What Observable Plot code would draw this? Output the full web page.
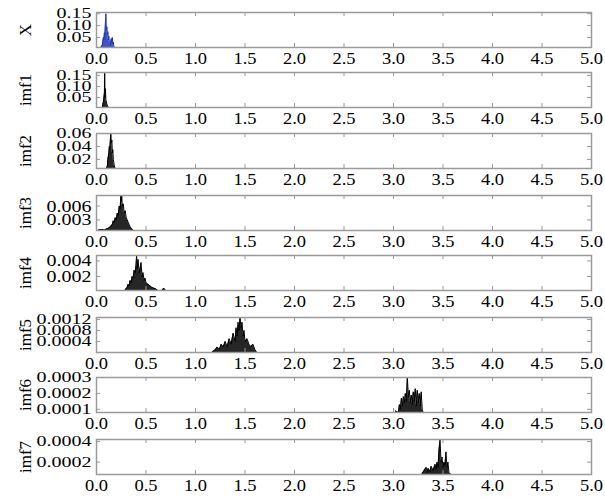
<!DOCTYPE html>
<html><head><meta charset="utf-8">
<script src="https://cdn.jsdelivr.net/npm/d3@7"></script>
<script src="https://cdn.jsdelivr.net/npm/@observablehq/plot@0.6"></script>
<style>
body{margin:0;background:#fff;}
#chart{position:relative;width:605px;height:497px;}
#chart svg{position:absolute;left:0;overflow:visible;}
</style></head><body><div id="chart"></div>
<script>
// ---- data ----
const panelNames = ["X","imf1","imf2","imf3","imf4","imf5","imf6","imf7"];
const xTicks = [0,0.5,1.0,1.5,2.0,2.5,3.0,3.5,4.0,4.5,5.0];

const specX = [[0.03,0],[0.04,0.005],[0.05,0.012],[0.06,0.02],[0.065,0.035],[0.07,0.05],[0.075,0.04],[0.08,0.07],[0.085,0.06],[0.09,0.11],[0.095,0.15],[0.1,0.08],[0.105,0.095],[0.11,0.06],[0.115,0.075],[0.12,0.04],[0.125,0.055],[0.13,0.03],[0.135,0.025],[0.14,0.02],[0.145,0.035],[0.15,0.045],[0.155,0.03],[0.16,0.05],[0.165,0.025],[0.17,0.03],[0.175,0.015],[0.18,0.01],[0.19,0]];
const specImf1 = [[0.06,0.005],[0.065,0.02],[0.07,0.03],[0.075,0.05],[0.08,0.07],[0.083,0.16],[0.086,0.05],[0.09,0.09],[0.095,0.04],[0.1,0.03],[0.105,0.02],[0.11,0.015],[0.12,0.005]];
const specImf2 = [[0.1,0.005],[0.11,0.01],[0.115,0.02],[0.12,0.025],[0.125,0.03],[0.13,0.04],[0.135,0.035],[0.14,0.05],[0.145,0.06],[0.15,0.045],[0.155,0.05],[0.16,0.03],[0.165,0.035],[0.17,0.02],[0.175,0.015],[0.18,0.01],[0.19,0.005]];
const specImf3 = [[0.02,0.0008],[0.05,0.0009],[0.08,0.0008],[0.1,0.001],[0.12,0.0012],[0.14,0.0015],[0.16,0.002],[0.17,0.0028],[0.18,0.0025],[0.19,0.0035],[0.2,0.003],[0.21,0.0045],[0.22,0.004],[0.23,0.006],[0.24,0.0055],[0.245,0.0083],[0.25,0.007],[0.255,0.0083],[0.26,0.006],[0.27,0.0065],[0.28,0.0045],[0.29,0.005],[0.3,0.0035],[0.31,0.003],[0.32,0.0025],[0.33,0.002],[0.34,0.0015],[0.35,0.0012],[0.37,0.0008]];
const specImf4 = [[0.29,0.0003],[0.31,0.0006],[0.32,0.001],[0.33,0.0008],[0.34,0.0015],[0.35,0.0012],[0.36,0.002],[0.37,0.0018],[0.38,0.0028],[0.39,0.0025],[0.4,0.0035],[0.405,0.0047],[0.41,0.003],[0.42,0.0042],[0.43,0.0025],[0.44,0.003],[0.45,0.0038],[0.46,0.002],[0.47,0.0025],[0.48,0.0015],[0.49,0.0018],[0.5,0.0012],[0.52,0.001],[0.54,0.0008],[0.56,0.0006],[0.58,0.0005],[0.6,0.0004],[0.62,0.0002],[0.66,0.0002],[0.68,0.0005],[0.7,0.0002]];
const specImf5 = [[1.17,0.00002],[1.2,0.0001],[1.22,0.0002],[1.24,0.0001],[1.26,0.0003],[1.28,0.0002],[1.3,0.0004],[1.32,0.0002],[1.34,0.0005],[1.36,0.0003],[1.38,0.0007],[1.4,0.0004],[1.41,0.0009],[1.42,0.0006],[1.43,0.0011],[1.44,0.0008],[1.45,0.00127],[1.46,0.0009],[1.47,0.0011],[1.48,0.0006],[1.49,0.0008],[1.5,0.0004],[1.52,0.0005],[1.54,0.0003],[1.56,0.0002],[1.58,0.0003],[1.6,0.0001],[1.62,0]];
const specImf6 = [[3.02,0.00009],[3.05,0.00008],[3.06,0.00013],[3.07,0.0001],[3.08,0.00017],[3.09,0.00012],[3.1,0.00018],[3.11,0.00014],[3.12,0.0002],[3.13,0.00015],[3.14,0.0003],[3.15,0.00018],[3.16,0.00022],[3.17,0.00014],[3.18,0.00019],[3.19,0.00013],[3.2,0.00021],[3.21,0.00015],[3.22,0.00023],[3.23,0.00012],[3.24,0.00022],[3.25,0.00014],[3.26,0.0002],[3.27,0.00012],[3.28,0.00021],[3.29,0.0001],[3.3,0.00008]];
const specImf7 = [[3.29,0.00009],[3.31,0.00012],[3.33,0.00015],[3.34,0.0001],[3.35,0.00014],[3.37,0.00011],[3.38,0.00016],[3.4,0.00012],[3.42,0.00018],[3.43,0.00013],[3.44,0.0002],[3.45,0.00015],[3.46,0.00032],[3.47,0.00042],[3.48,0.0002],[3.49,0.00025],[3.5,0.00015],[3.51,0.0002],[3.52,0.00017],[3.53,0.0003],[3.54,0.00015],[3.55,0.0002],[3.56,0.0001],[3.58,0.00008]];

const yTicksX = [0.05,0.10,0.15];
const yTicksImf1 = [0.05,0.10,0.15];
const yTicksImf2 = [0.02,0.04,0.06];
const yTicksImf3 = [0.003,0.006];
const yTicksImf4 = [0.002,0.004];
const yTicksImf5 = [0.0004,0.0008,0.0012];
const yTicksImf6 = [0.0001,0.0002,0.0003];
const yTicksImf7 = [0.0002,0.0004];

const yDomX = [0.008,0.155];
const yDomImf1 = [0.005,0.163];
const yDomImf2 = [0.006,0.06];
const yDomImf3 = [0.0007,0.0083];
const yDomImf4 = [0.0002,0.0047];
const yDomImf5 = [0,0.00127];
const yDomImf6 = [0.00008,0.0003];
const yDomImf7 = [0.00008,0.00042];

const specs = [specX,specImf1,specImf2,specImf3,specImf4,specImf5,specImf6,specImf7];
const yTicksAll = [yTicksX,yTicksImf1,yTicksImf2,yTicksImf3,yTicksImf4,yTicksImf5,yTicksImf6,yTicksImf7];
const yDoms = [yDomX,yDomImf1,yDomImf2,yDomImf3,yDomImf4,yDomImf5,yDomImf6,yDomImf7];
const yFormats = [".2f",".2f",".2f",".3f",".3f",".4f",".4f",".4f"];
const colors = ["#1f35b5","#000","#000","#000","#000","#000","#000","#000"];

// ---- layout / style ----
const tops = [12,72,133,195,255,317,377,439];
const ySquash = [0.68,0.68,0.75,0.85,0.85,0.68,0.68,0.72];
const frameH = 35, mTop = 12, mBottom = 24, mLeft = 96, mRight = 14;
const frameW = 605 - mLeft - mRight;
const grid = "#9a9a9a";
const serif = "'Liberation Serif', 'Times New Roman', serif";
const chart = document.getElementById("chart");

panelNames.forEach((name, i) => {
  const spec = specs[i];
  const yt = yTicksAll[i];
  const svg = Plot.plot({
    width: 605,
    height: mTop + frameH + mBottom,
    marginTop: mTop, marginBottom: mBottom, marginLeft: mLeft, marginRight: mRight,
    style: {background: "transparent", overflow: "visible", fontFamily: serif, fontSize: "18px", color: "#000"},
    x: {domain: [0, 5]},
    y: {domain: yDoms[i]},
    marks: [
      Plot.areaY(spec, {x: d => d[0], y: d => d[1], fill: colors[i], fillOpacity: 0.85, clip: true}),
      Plot.lineY(spec, {x: d => d[0], y: d => d[1], stroke: colors[i], strokeWidth: 1, clip: true}),
      Plot.tickX(xTicks, {x: d => d, insetTop: frameH - 4, stroke: grid}),
      Plot.tickX(xTicks, {x: d => d, insetBottom: frameH - 4, stroke: grid}),
      Plot.tickY(yt, {y: d => d, insetRight: frameW - 4, stroke: grid}),
      Plot.tickY(yt, {y: d => d, insetLeft: frameW - 4, stroke: grid}),
      Plot.frame({stroke: grid, strokeWidth: 1.5}),
      Plot.axisX(xTicks, {tickSize: 0, tickPadding: 5, tickFormat: ".1f", fontSize: 18.5, label: null}),
      Plot.axisY(yt, {tickSize: 0, tickPadding: 5, tickFormat: yFormats[i], fontSize: 20,
        label: name, labelAnchor: "center", labelOffset: 78, labelArrow: "none"})
    ]
  });
  svg.querySelectorAll("text").forEach(t => { t.setAttribute("font-family", serif); t.style.fontFamily = serif; });
  svg.querySelectorAll('g[aria-label="y-axis tick label"] text').forEach(t => {
    const tr = t.getAttribute("transform");
    if (tr) t.setAttribute("transform", tr + ` scale(1,${ySquash[i]})`);
  });
  svg.querySelectorAll('g[aria-label="x-axis tick label"] text').forEach(t => {
    const tr = t.getAttribute("transform");
    if (tr) t.setAttribute("transform", tr + " scale(1,0.85)");
  });
  svg.querySelectorAll('g[aria-label="y-axis label"] text').forEach(t => t.setAttribute("font-size", 17));
  svg.style.top = (tops[i] - mTop) + "px";
  chart.appendChild(svg);
});
</script></body></html>
